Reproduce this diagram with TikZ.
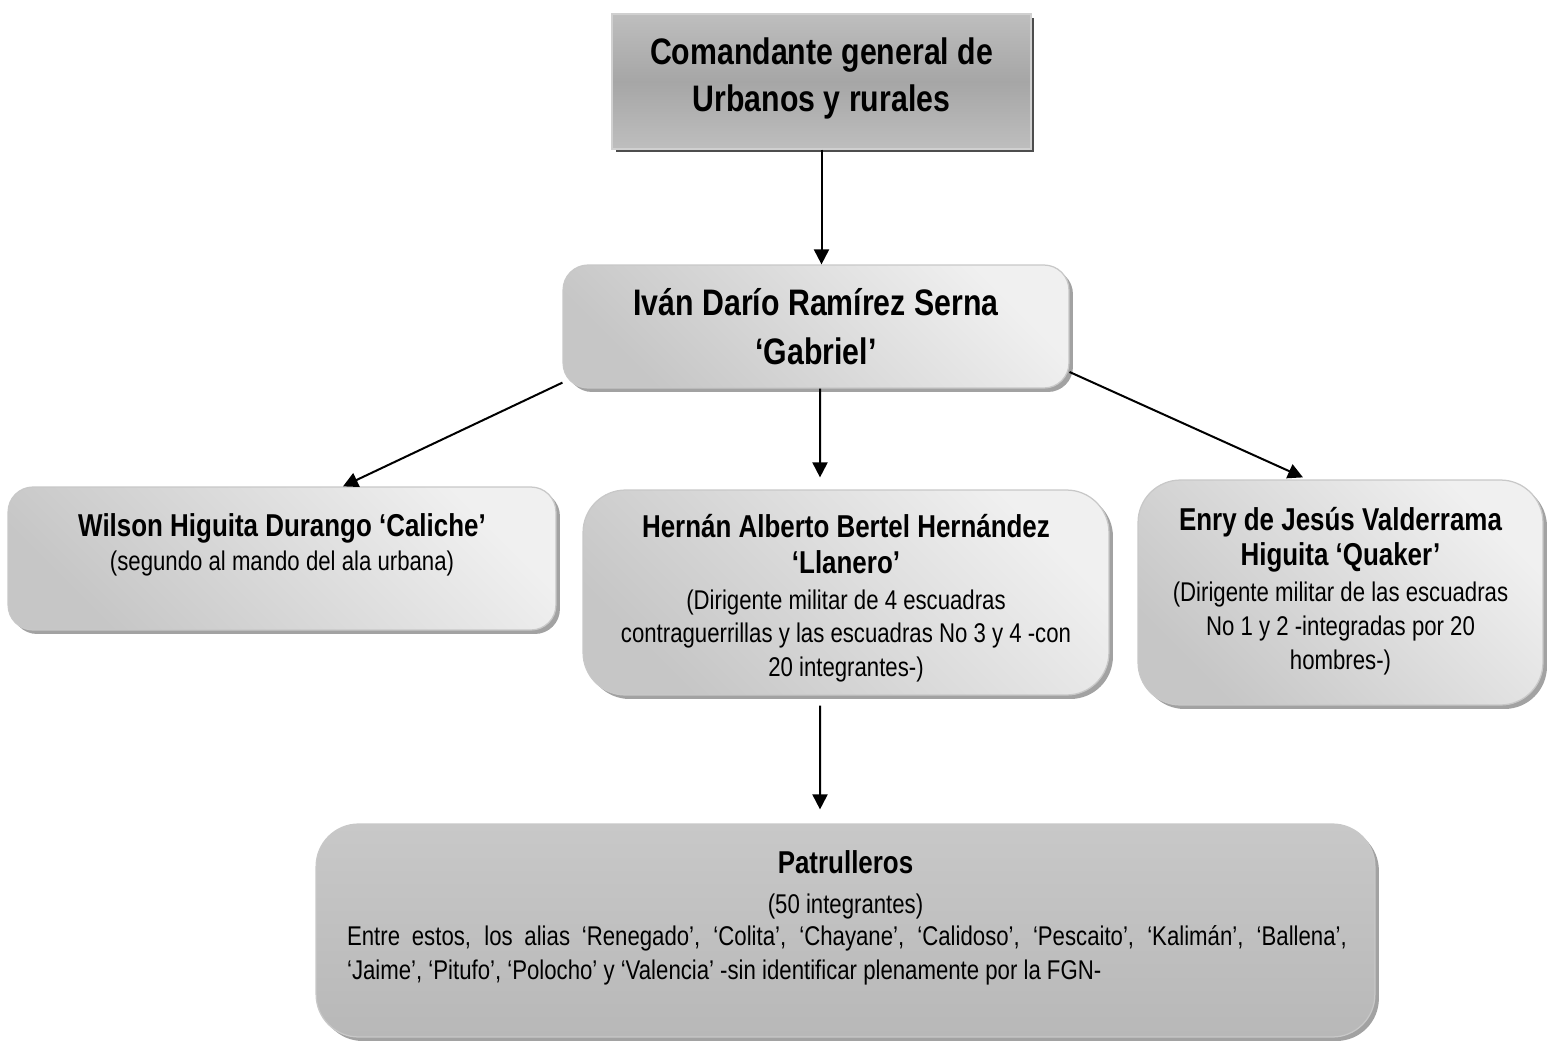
\documentclass[tikz,border=0pt]{standalone}
\usepackage{fontspec}
\setmainfont{Liberation Sans}[FakeStretch=0.82]
\usepackage{xcolor}
\usepackage{tikz}
\usetikzlibrary{arrows.meta}
\usetikzlibrary{shadows}
\usetikzlibrary{math}

\definecolor{bossedge}{HTML}{BEBEBE}
\definecolor{bossmid}{HTML}{A6A6A6}
\definecolor{bossline}{HTML}{D0D0D0}
\definecolor{bossshade}{HTML}{4D4D4D}
\definecolor{cardtop}{HTML}{F0F0F0}
\definecolor{cardbot}{HTML}{C6C6C6}
\definecolor{cardline}{HTML}{C8C8C8}
\definecolor{cardshade}{HTML}{A2A2A2}
\definecolor{patroltop}{HTML}{C8C8C8}
\definecolor{patrolbot}{HTML}{B8B8B8}

\newcommand{\bossfont}{\fontsize{21pt}{27pt}\selectfont\bfseries}
\newcommand{\namefont}{\fontsize{18pt}{19.3pt}\selectfont\bfseries}
\newcommand{\notefont}{\fontsize{15.4pt}{19.3pt}\selectfont}

\begin{document}
\begin{tikzpicture}[x=0.02cm,y=-0.02cm,line width=0.4mm,
  conn/.style={-{Triangle[length=3mm,width=3mm]}},
  boss/.style={draw=bossline, line width=0.25mm, top color=bossedge, bottom color=bossedge,
    middle color=bossmid, drop shadow={shadow xshift=0.7mm, shadow yshift=-0.7mm, opacity=1, fill=bossshade}},
  card/.style={draw=cardline, line width=0.25mm, top color=cardtop, bottom color=cardbot,
    shading angle=-45, drop shadow={shadow xshift=0.8mm, shadow yshift=-0.8mm, opacity=1, fill=cardshade}},
  patrol/.style={card, top color=patroltop, bottom color=patrolbot, shading angle=0},
  txt/.style={inner sep=0pt, align=center, font=\notefont}]

  \tikzmath{
    \rsmall = 0.5;  % corner radius of the flat cards
    \rbig   = 0.85; % corner radius of the tall cards
  }

  \useasboundingbox (0,0) rectangle (1552,1041);

  % boxes
  \node[boss, minimum width=8.38cm, minimum height=2.70cm] (boss) at (821.5,81.5) {};
  \node[card, rounded corners=\rsmall cm, minimum width=10.12cm, minimum height=2.46cm] (gabriel) at (816,326.5) {};
  \node[card, rounded corners=\rsmall cm, minimum width=10.96cm, minimum height=2.86cm] (caliche) at (282,558.5) {};
  \node[card, rounded corners=\rbig cm, minimum width=10.52cm, minimum height=4.10cm] (llanero) at (846,592.5) {};
  \node[card, rounded corners=\rbig cm, minimum width=8.10cm, minimum height=4.50cm] (quaker) at (1340.5,592.5) {};
  \node[patrol, rounded corners=\rbig cm, minimum width=21.18cm, minimum height=4.26cm] (patrol) at (845.5,930.5) {};

  % texts
  \node[txt, font=\bossfont] (boss-txt) at ([yshift=0.06cm]boss) {Comandante general de\\Urbanos y rurales};
  \node[txt, font=\fontsize{21pt}{28pt}\selectfont\bfseries] (gabriel-txt) at (gabriel)
  {Iván Darío Ramírez Serna\\‘Gabriel’};
  \node[txt] (caliche-txt) at ([yshift=0.28cm]caliche)
  {\namefont Wilson Higuita Durango ‘Caliche’\\(segundo al mando del ala urbana)};
  \node[txt] (llanero-txt) at ([yshift=-0.12cm]llanero)
  {\namefont Hernán Alberto Bertel Hernández\\[1pt]\namefont ‘Llanero’\\[1pt](Dirigente militar de 4 escuadras\\
   contraguerrillas y las escuadras No 3 y 4 -con\\20 integrantes-)};
  \node[txt] (quaker-txt) at ([yshift=0.03cm]quaker)
  {\namefont Enry de Jesús Valderrama\\[1pt]\namefont Higuita ‘Quaker’\\[1pt](Dirigente militar de las escuadras\\
   No 1 y 2 -integradas por 20\\hombres-)};
  \node[txt] (patrol-head) at ([yshift=0.91cm]patrol)
  {\namefont Patrulleros\\[3.5pt](50 integrantes)};
  \node[txt, text width=20cm, align=justify] (patrol-body) at ([xshift=0.03cm,yshift=-0.5cm]patrol)
  {Entre estos, los alias ‘Renegado’, ‘Colita’, ‘Chayane’, ‘Calidoso’, ‘Pescaito’, ‘Kalimán’, ‘Ballena’,\linebreak
   ‘Jaime’, ‘Pitufo’, ‘Polocho’ y ‘Valencia’ -sin identificar plenamente por la FGN-};

  % connectors
  \draw[conn] (boss) -- (boss |- gabriel.north);
  \draw[conn] ([yshift=0.12cm]gabriel.south west) -- ([xshift=1.22cm]caliche.north);
  \draw[conn] ([xshift=0.08cm]gabriel.south) -- ([xshift=-0.52cm,yshift=0.24cm]llanero.north);
  \draw[conn] ([yshift=-0.91cm]gabriel.east) -- ([xshift=-0.75cm,yshift=0.04cm]quaker.north);
  \draw[conn] ([xshift=-0.52cm,yshift=-0.2cm]llanero.south) -- ([xshift=-0.51cm,yshift=0.28cm]patrol.north);

\end{tikzpicture}
\end{document}
